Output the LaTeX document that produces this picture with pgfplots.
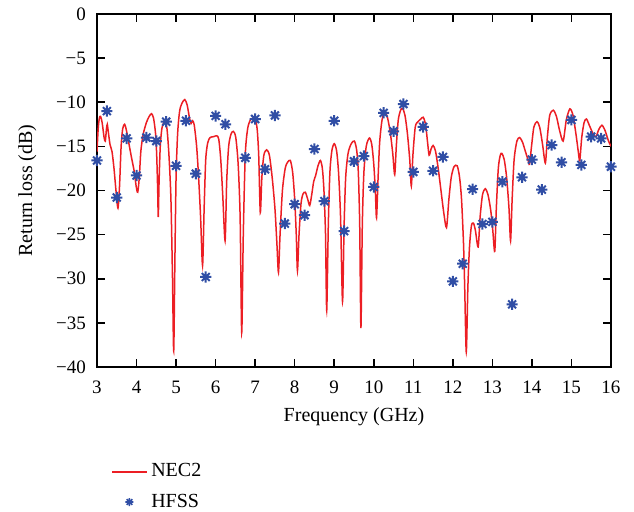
\documentclass[border=0pt]{standalone}
\usepackage{fontspec}
\setmainfont{Liberation Serif}
\usepackage{pgfplots}
\pgfplotsset{compat=1.18}
\definecolor{necred}{RGB}{236,30,36}
\definecolor{hfssblue}{RGB}{48,78,165}
\pgfdeclareplotmark{ast8}{%
  \pgfpathmoveto{\pgfqpoint{-\pgfplotmarksize}{0pt}}\pgfpathlineto{\pgfqpoint{\pgfplotmarksize}{0pt}}%
  \pgfpathmoveto{\pgfqpoint{0pt}{-\pgfplotmarksize}}\pgfpathlineto{\pgfqpoint{0pt}{\pgfplotmarksize}}%
  \pgfpathmoveto{\pgfqpoint{-0.7071\pgfplotmarksize}{-0.7071\pgfplotmarksize}}\pgfpathlineto{\pgfqpoint{0.7071\pgfplotmarksize}{0.7071\pgfplotmarksize}}%
  \pgfpathmoveto{\pgfqpoint{-0.7071\pgfplotmarksize}{0.7071\pgfplotmarksize}}\pgfpathlineto{\pgfqpoint{0.7071\pgfplotmarksize}{-0.7071\pgfplotmarksize}}%
  \pgfusepathqstroke}
\begin{document}
\begin{tikzpicture}
\path[use as bounding box] (-48.5pt,-72.5pt) rectangle (268.5pt,183.5pt);
\begin{axis}[
  at={(0pt,0pt)}, anchor=south west,
  scale only axis, width=257pt, height=176.5pt,
  xmin=3, xmax=16, ymin=-40, ymax=0,
  xtick={3,4,...,16},
  ytick={-40,-35,...,0},
  yticklabels={−40,−35,−30,−25,−20,−15,−10,−5,0},
  xticklabels={3,4,5,6,7,8,9,10,11,12,13,14,15,16},
  tick label style={font=\fontsize{9.5}{10}\selectfont},
  xticklabel style={yshift=-3.5pt},
  yticklabel style={xshift=-2pt},
  tick align=inside,
  major tick length=4pt,
  axis line style={line width=0.8pt},
  every tick/.style={line width=0.8pt, black},
  xlabel={Frequency (GHz)},
  ylabel={Return loss (dB)},
  label style={font=\fontsize{10}{12}\selectfont},
  xlabel style={yshift=0pt},
  ylabel style={yshift=3pt},
  legend style={at={(0.016,-0.25)}, anchor=north west, draw=none, fill=none,
    font=\fontsize{10}{12}\selectfont, row sep=3pt},
  legend cell align=left,
]
\addplot[necred, line width=0.75pt, smooth, tension=0.45] coordinates {
(3.00,-15.6) (3.03,-13.0) (3.06,-11.8) (3.09,-11.6) (3.13,-12.3) (3.18,-14.0)
(3.21,-14.4) (3.24,-13.0) (3.26,-12.5) (3.29,-13.5) (3.33,-14.8) (3.38,-15.6)
(3.43,-17.5) (3.48,-20.0) (3.53,-22.0) (3.57,-19.5) (3.61,-15.0) (3.65,-13.0)
(3.70,-12.5) (3.75,-13.3) (3.80,-14.5) (3.87,-16.2) (3.94,-17.8) (3.99,-19.5)
(4.03,-20.2) (4.07,-18.5) (4.11,-15.5) (4.17,-13.6) (4.25,-12.3) (4.32,-11.6)
(4.38,-11.3) (4.43,-11.8) (4.48,-13.5) (4.51,-16.0) (4.535,-20.0) (4.55,-23.0)
(4.57,-19.0) (4.60,-15.0) (4.64,-13.0) (4.68,-12.4) (4.72,-12.2) (4.77,-13.0)
(4.82,-16.0) (4.87,-21.0) (4.91,-30.0) (4.94,-38.2) (4.97,-28.0) (5.00,-18.5)
(5.04,-13.5) (5.09,-11.0) (5.15,-10.1) (5.22,-9.7) (5.28,-10.3) (5.34,-11.8)
(5.38,-12.4) (5.42,-12.1) (5.46,-12.6) (5.52,-15.0) (5.57,-18.5) (5.62,-23.0)
(5.67,-28.5) (5.71,-22.0) (5.75,-16.5) (5.80,-14.6) (5.86,-14.0) (5.95,-13.9)
(6.03,-13.8) (6.08,-14.2) (6.13,-16.5) (6.18,-20.5) (6.24,-25.7) (6.28,-19.0)
(6.33,-15.0) (6.39,-13.6) (6.45,-13.3) (6.51,-14.0) (6.57,-17.0) (6.62,-23.0)
(6.66,-36.1) (6.70,-25.0) (6.75,-16.0) (6.81,-13.0) (6.88,-12.0) (6.95,-11.8)
(7.00,-11.9) (7.05,-13.0) (7.09,-16.0) (7.13,-22.5) (7.17,-18.5) (7.22,-16.0)
(7.29,-15.4) (7.36,-16.0) (7.43,-18.5) (7.50,-22.0) (7.55,-26.0) (7.59,-29.3)
(7.63,-25.0) (7.69,-20.0) (7.76,-17.5) (7.82,-16.8) (7.89,-16.6) (7.95,-18.0)
(8.00,-21.0) (8.04,-25.0) (8.07,-29.1) (8.11,-25.0) (8.16,-21.5) (8.21,-20.4)
(8.27,-20.2) (8.33,-21.0) (8.38,-21.7) (8.43,-20.5) (8.48,-19.0) (8.53,-18.3)
(8.59,-17.2) (8.65,-16.6) (8.70,-17.5) (8.74,-20.0) (8.78,-25.0) (8.81,-33.6)
(8.85,-24.0) (8.89,-18.0) (8.94,-15.5) (9.00,-14.7) (9.06,-15.5) (9.11,-18.0)
(9.16,-23.0) (9.21,-32.6) (9.25,-24.0) (9.29,-18.5) (9.35,-15.8) (9.43,-14.7)
(9.51,-14.4) (9.57,-15.5) (9.61,-18.0) (9.645,-24.0) (9.675,-35.6) (9.71,-24.0)
(9.75,-18.0) (9.81,-15.0) (9.89,-14.05) (9.95,-14.8) (10.00,-17.0) (10.04,-20.0)
(10.07,-23.1) (10.11,-18.5) (10.15,-14.5) (10.21,-12.0) (10.28,-11.1) (10.35,-11.8)
(10.42,-13.5) (10.48,-15.8) (10.53,-18.2) (10.57,-15.0) (10.62,-12.0) (10.68,-10.9)
(10.73,-10.7) (10.79,-11.5) (10.85,-13.5) (10.91,-16.5) (10.95,-19.5) (10.99,-16.0)
(11.05,-12.8) (11.12,-12.2) (11.19,-11.9) (11.25,-11.7) (11.31,-12.5) (11.36,-14.5)
(11.40,-16.0) (11.45,-15.3) (11.50,-14.9) (11.56,-15.5) (11.63,-17.5) (11.70,-20.0)
(11.77,-22.5) (11.84,-24.2) (11.90,-21.0) (11.96,-18.5) (12.03,-17.3) (12.11,-17.2)
(12.17,-18.5) (12.22,-21.0) (12.27,-26.0) (12.30,-31.0) (12.34,-38.3) (12.38,-31.0)
(12.42,-26.5) (12.47,-24.0) (12.52,-23.7) (12.57,-24.5) (12.64,-26.4) (12.69,-23.0)
(12.75,-20.5) (12.82,-19.8) (12.89,-20.5) (12.96,-22.3) (13.01,-24.5) (13.06,-26.9)
(13.10,-22.0) (13.15,-17.5) (13.20,-16.0) (13.24,-15.8) (13.30,-16.5) (13.36,-18.5)
(13.42,-22.0) (13.46,-25.7) (13.50,-21.0) (13.55,-16.5) (13.62,-14.4) (13.69,-14.0)
(13.76,-14.5) (13.83,-15.5) (13.90,-16.5) (13.94,-17.0) (13.99,-15.0) (14.05,-12.8)
(14.13,-12.2) (14.20,-12.9) (14.27,-14.8) (14.34,-16.9) (14.39,-14.0) (14.45,-11.5)
(14.54,-10.9) (14.62,-11.6) (14.70,-13.2) (14.79,-14.4) (14.87,-12.0) (14.96,-10.75)
(15.04,-11.5) (15.12,-13.8) (15.17,-15.5) (15.21,-16.6) (15.26,-14.0) (15.32,-12.3)
(15.38,-11.9) (15.46,-12.7) (15.55,-13.6) (15.62,-13.9) (15.69,-13.1) (15.77,-12.6)
(15.85,-13.2) (15.93,-14.3) (16.00,-15.0)
};
\addlegendentry{NEC2}
\addplot[only marks, mark=ast8, mark size=2.8pt, hfssblue, mark options={line width=1pt},
  legend image post style={mark size=2pt, mark options={line width=0.8pt}}] coordinates {
(3.00,-16.6) (3.25,-11.0) (3.50,-20.8) (3.75,-14.1) (4.00,-18.3) (4.25,-14.0)
(4.50,-14.4) (4.75,-12.2) (5.00,-17.2) (5.25,-12.1) (5.50,-18.1) (5.75,-29.8)
(6.00,-11.55) (6.25,-12.5) (6.75,-16.3) (7.00,-11.9) (7.25,-17.6) (7.50,-11.5)
(7.75,-23.75) (8.00,-21.55) (8.25,-22.8) (8.50,-15.3) (8.75,-21.2) (9.00,-12.1)
(9.25,-24.6) (9.50,-16.7) (9.75,-16.1) (10.00,-19.6) (10.25,-11.2) (10.50,-13.3)
(10.75,-10.2) (11.00,-17.9) (11.25,-12.8) (11.50,-17.77) (11.75,-16.2) (12.00,-30.3)
(12.25,-28.3) (12.50,-19.85) (12.75,-23.8) (13.00,-23.56) (13.25,-19.0) (13.50,-32.9)
(13.75,-18.5) (14.00,-16.5) (14.25,-19.9) (14.50,-14.85) (14.75,-16.8) (15.00,-12.0)
(15.25,-17.1) (15.50,-13.9) (15.75,-14.1) (16.00,-17.3)
};
\addlegendentry{HFSS}
\end{axis}
\end{tikzpicture}
\end{document}
